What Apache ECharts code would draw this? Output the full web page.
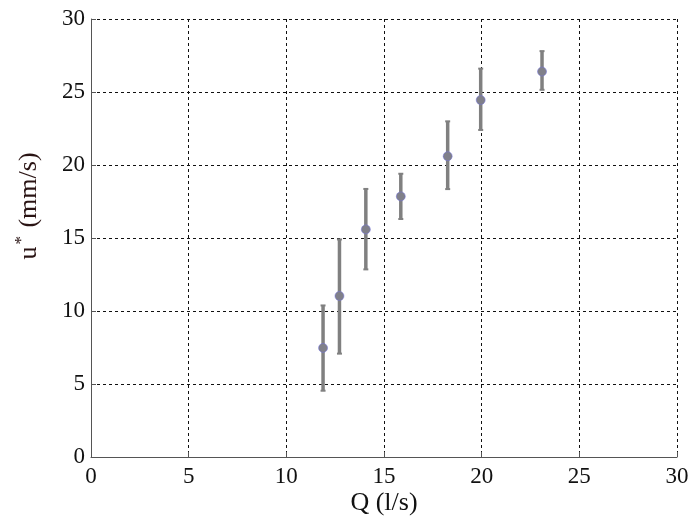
<!DOCTYPE html>
<html>
<head>
<meta charset="utf-8">
<script src="https://cdn.jsdelivr.net/npm/echarts@6/dist/echarts.min.js"></script>
<style>html,body{margin:0;padding:0;background:#fff;}#c{width:690px;height:516px;}</style>
</head>
<body>
<div id="c"></div>
<script>
// Data
var flowQ = [11.88, 12.72, 14.07, 15.86, 18.26, 19.95, 23.09];
var uStar = [7.47, 11.03, 15.59, 17.85, 20.6, 24.45, 26.4];
var uLow  = [4.54, 7.08, 12.85, 16.3, 18.35, 22.4, 25.15];
var uHigh = [10.38, 14.9, 18.36, 19.4, 22.99, 26.6, 27.8];
var xTicks = [0, 5, 10, 15, 20, 25, 30];
var yTicks = [0, 5, 10, 15, 20, 25, 30];

var pts = flowQ.map(function (q, i) { return [q, uStar[i]]; });
var errs = flowQ.map(function (q, i) { return [q, uLow[i], uHigh[i]]; });

var font = 'Liberation Serif, Times New Roman, serif';
var chart = echarts.init(document.getElementById('c'));
function axisCommon(ticks, margin) {
  return {
    type: 'value', min: ticks[0], max: ticks[ticks.length - 1], interval: 5,
    nameMoveOverlap: false,
    axisLine: { show: true, onZero: false, lineStyle: { color: '#555', width: 1 } },
    axisTick: { show: true, inside: true, length: 5, lineStyle: { color: '#555' } },
    axisLabel: { color: '#111', fontFamily: font, fontSize: 23, margin: margin },
    splitLine: { show: true, lineStyle: { color: '#111', type: [3, 3], width: 1 } }
  };
}
var xAxis = axisCommon(xTicks, 8);
xAxis.name = 'Q (l/s)';
xAxis.nameLocation = 'middle';
xAxis.nameGap = 33;
xAxis.nameTextStyle = { color: '#111', fontFamily: font, fontSize: 26 };
var yAxis = axisCommon(yTicks, 6);
yAxis.name = '{u|u}{s|*}{u| (mm/s)}';
yAxis.nameLocation = 'middle';
yAxis.nameGap = 45;
yAxis.nameTextStyle = {
  color: '#2a1414', fontFamily: font, fontSize: 26,
  padding: [0, 0, 0, 64],
  rich: {
    u: { fontFamily: font, fontSize: 26, color: '#2a1414' },
    s: { fontFamily: font, fontSize: 17, color: '#2a1414', verticalAlign: 'top', padding: [0, 2, 16, 2] }
  }
};

chart.setOption({
  animation: false,
  backgroundColor: '#fff',
  grid: { left: 91, top: 19, right: 13, bottom: 59, containLabel: false, outerBoundsMode: 'none' },
  xAxis: xAxis,
  yAxis: yAxis,
  series: [
    {
      type: 'custom',
      data: errs,
      z: 2,
      renderItem: function (params, api) {
        var x = api.value(0);
        var lo = api.coord([x, api.value(1)]);
        var hi = api.coord([x, api.value(2)]);
        var st = { stroke: '#808080', lineWidth: 3.5 };
        return {
          type: 'group',
          children: [
            { type: 'line', shape: { x1: lo[0], y1: lo[1], x2: hi[0], y2: hi[1] }, style: st },
            { type: 'line', shape: { x1: lo[0] - 2.5, y1: lo[1], x2: lo[0] + 2.5, y2: lo[1] }, style: { stroke: '#808080', lineWidth: 2 } },
            { type: 'line', shape: { x1: hi[0] - 2.5, y1: hi[1], x2: hi[0] + 2.5, y2: hi[1] }, style: { stroke: '#808080', lineWidth: 2 } }
          ]
        };
      }
    },
    {
      type: 'scatter',
      data: pts,
      z: 3,
      symbol: 'circle',
      symbolSize: 9,
      itemStyle: { color: '#80808a', borderColor: '#7070e0', borderWidth: 0.5, opacity: 1 }
    }
  ]
});
</script>
</body>
</html>
